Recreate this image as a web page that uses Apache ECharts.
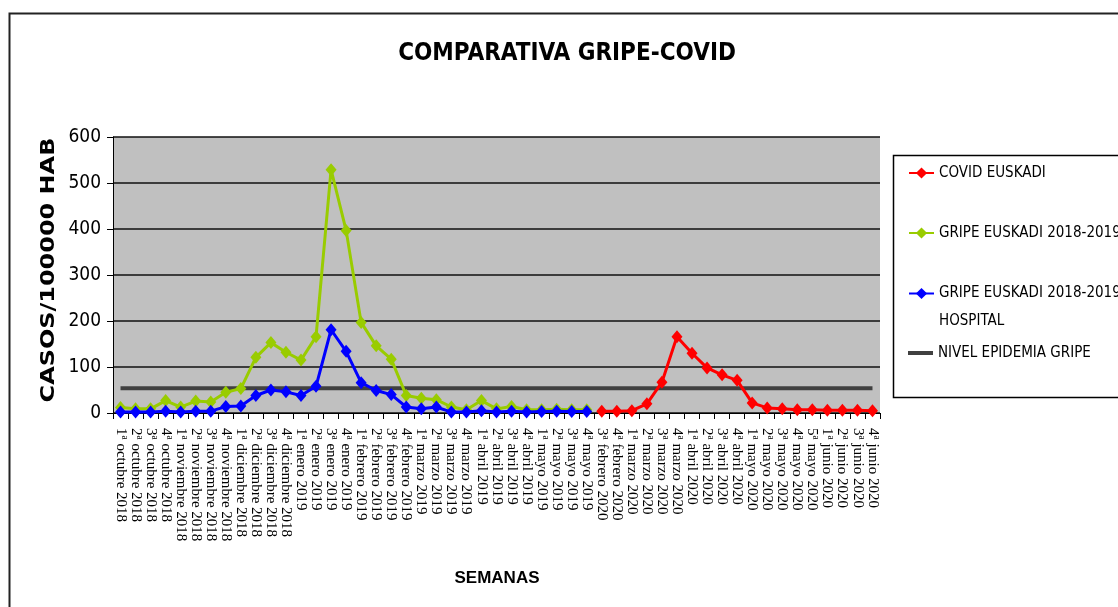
<!DOCTYPE html>
<html>
<head>
<meta charset="utf-8">
<script src="https://cdn.jsdelivr.net/npm/echarts@6/dist/echarts.min.js"></script>
<style>
html,body{margin:0;padding:0;background:#fff;}
#chart{width:1118px;height:607px;}
</style>
</head>
<body>
<div id="chart"></div>
<script>
var categories = [
  '1ª octubre 2018','2ª octubre 2018','3ª octubre 2018','4ª octubre 2018',
  '1ª noviembre 2018','2ª noviembre 2018','3ª noviembre 2018','4ª noviembre 2018',
  '1ª diciembre 2018','2ª diciembre 2018','3ª diciembre 2018','4ª diciembre 2018',
  '1ª enero 2019','2ª enero 2019','3ª enero 2019','4ª enero 2019',
  '1ª febrero 2019','2ª febrero 2019','3ª febrero 2019','4ª febrero 2019',
  '1ª marzo 2019','2ª marzo 2019','3ª marzo 2019','4ª marzo 2019',
  '1ª abril 2019','2ª abril 2019','3ª abril 2019','4ª abril 2019',
  '1ª mayo 2019','2ª mayo 2019','3ª mayo 2019','4ª mayo 2019',
  '3ª febrero 2020','4ª febrero 2020',
  '1ª marzo 2020','2ª marzo 2020','3ª marzo 2020','4ª marzo 2020',
  '1ª abril 2020','2ª abril 2020','3ª abril 2020','4ª abril 2020',
  '1ª mayo 2020','2ª mayo 2020','3ª mayo 2020','4ª mayo 2020','5ª mayo 2020',
  '1ª junio 2020','2ª junio 2020','3ª junio 2020','4ª junio 2020'
];

var covidEuskadi = [
  '-','-','-','-','-','-','-','-','-','-','-','-','-','-','-','-',
  '-','-','-','-','-','-','-','-','-','-','-','-','-','-','-','-',
  4, 4, 5, 20, 67, 166, 130, 98, 83, 71, 22, 11, 9, 7, 7, 6, 6, 6, 5
];

var gripeEuskadi = [
  12, 9, 9, 27, 13, 26, 24, 45, 53, 121, 153, 132, 115, 166, 529, 397,
  197, 146, 117, 38, 32, 29, 13, 7, 27, 9, 14, 7, 7, 8, 7, 7,
  '-','-','-','-','-','-','-','-','-','-','-','-','-','-','-','-','-','-','-'
];

var gripeHospital = [
  2, 2, 2, 4, 2, 4, 4, 14, 15, 38, 50, 46, 38, 58, 181, 134,
  66, 49, 40, 13, 9, 13, 2, 2, 5, 2, 4, 2, 3, 4, 3, 3,
  '-','-','-','-','-','-','-','-','-','-','-','-','-','-','-','-','-','-','-'
];

var nivelEpidemia = [
  54,54,54,54,54,54,54,54,54,54,54,54,54,54,54,54,54,
  54,54,54,54,54,54,54,54,54,54,54,54,54,54,54,54,54,
  54,54,54,54,54,54,54,54,54,54,54,54,54,54,54,54,54
];

var yTicks = [0, 100, 200, 300, 400, 500, 600];

var NARROW = "'Liberation Sans Narrow','Arial Narrow','DejaVu Sans Condensed',sans-serif";
var SER_COVID = 'COVID EUSKADI';
var SER_GRIPE = 'GRIPE EUSKADI 2018-2019';
var SER_HOSP = 'GRIPE EUSKADI 2018-2019 HOSPITAL';
var SER_NIVEL = 'NIVEL EPIDEMIA GRIPE';

function legendAt(name, top, extra) {
  var l = {
    data: [name],
    orient: 'vertical',
    left: 908,
    top: top,
    padding: 0,
    itemWidth: 25,
    itemHeight: 14,
    itemGap: 0,
    selectedMode: false,
    textStyle: { fontFamily: NARROW, fontSize: 15, color: '#000', lineHeight: 16 }
  };
  if (extra) { for (var k in extra) l[k] = extra[k]; }
  return l;
}

var chart = echarts.init(document.getElementById('chart'), null, { renderer: 'canvas' });

var option = {
  backgroundColor: '#ffffff',
  animation: false,
  title: {
    text: 'COMPARATIVA GRIPE-COVID',
    left: 567,
    textAlign: 'center',
    top: 42,
    padding: 0,
    textStyle: { fontFamily: NARROW, fontWeight: 'bold', fontSize: 24, color: '#000' }
  },
  graphic: [
    { type: 'rect', left: 7, top: 11, shape: { x: 0, y: 0, width: 1200, height: 700 },
      style: { fill: 'none', stroke: '#222', lineWidth: 2 }, silent: true, z: -1 },
    { type: 'rect', left: 891, top: 153, shape: { x: 0, y: 0, width: 260, height: 242 },
      style: { fill: 'none', stroke: '#000', lineWidth: 1.5 }, silent: true },
    { type: 'text', x: 49, y: 270, rotation: Math.PI / 2, scaleX: 1.26, silent: true,
      style: { text: 'CASOS/100000 HAB', fill: '#000',
        font: "bold 19px 'DejaVu Sans', sans-serif",
        textAlign: 'center', textVerticalAlign: 'middle' } },
    { type: 'text', x: 497, y: 578, silent: true,
      style: { text: 'SEMANAS', fill: '#000',
        font: "bold 17px 'Liberation Sans', Arial, sans-serif",
        textAlign: 'center', textVerticalAlign: 'middle' } }
  ],
  legend: [
    legendAt(SER_COVID, 165),
    legendAt(SER_GRIPE, 225),
    legendAt(SER_HOSP, 258, {
      formatter: function () {
        return '{e| }\n{a|GRIPE EUSKADI 2018-2019}\n{a|HOSPITAL}';
      },
      textStyle: {
        fontFamily: NARROW, fontSize: 15, color: '#000',
        rich: {
          e: { lineHeight: 28, fontSize: 15, fontFamily: NARROW },
          a: { lineHeight: 28, fontSize: 15, fontFamily: NARROW, color: '#000' }
        }
      }
    }),
    legendAt(SER_NIVEL, 345, {
      data: [{ name: SER_NIVEL, icon: 'rect' }],
      itemHeight: 4
    })
  ],
  grid: {
    left: 113, right: 238, top: 137, bottom: 194,
    show: true, backgroundColor: '#C0C0C0', borderWidth: 0
  },
  xAxis: {
    type: 'category',
    data: categories,
    boundaryGap: true,
    axisLine: { lineStyle: { color: '#000', width: 1 } },
    axisTick: { show: true, alignWithLabel: false, length: 6, interval: 0, lineStyle: { color: '#000' } },
    axisLabel: {
      interval: 0, rotate: -90, margin: 15,
      fontFamily: "'Liberation Serif','Times New Roman',serif", fontSize: 15, color: '#000'
    },
    splitLine: { show: false }
  },
  yAxis: {
    type: 'value',
    min: yTicks[0],
    max: yTicks[yTicks.length - 1],
    interval: 100,
    axisLine: { show: true, lineStyle: { color: '#000', width: 1 } },
    axisTick: { show: true, length: 6, lineStyle: { color: '#000' } },
    axisLabel: { margin: 12, fontFamily: NARROW, fontSize: 19, color: '#000' },
    splitLine: { show: true, lineStyle: { color: '#111', width: 1.5 } }
  },
  series: [
    {
      name: SER_NIVEL, type: 'line', data: nivelEpidemia,
      symbol: 'none', z: 2,
      lineStyle: { color: '#404040', width: 4 },
      itemStyle: { color: '#404040' }
    },
    {
      name: SER_GRIPE, type: 'line', data: gripeEuskadi,
      symbol: 'diamond', symbolSize: [11, 13], z: 3,
      lineStyle: { color: '#99CC00', width: 3 },
      itemStyle: { color: '#99CC00' }
    },
    {
      name: SER_HOSP, type: 'line', data: gripeHospital,
      symbol: 'diamond', symbolSize: [11, 13], z: 4,
      lineStyle: { color: '#0000FF', width: 3 },
      itemStyle: { color: '#0000FF' }
    },
    {
      name: SER_COVID, type: 'line', data: covidEuskadi,
      symbol: 'diamond', symbolSize: [11, 13], z: 5,
      lineStyle: { color: '#FF0000', width: 3 },
      itemStyle: { color: '#FF0000' }
    }
  ]
};

chart.setOption(option);
</script>
</body>
</html>
